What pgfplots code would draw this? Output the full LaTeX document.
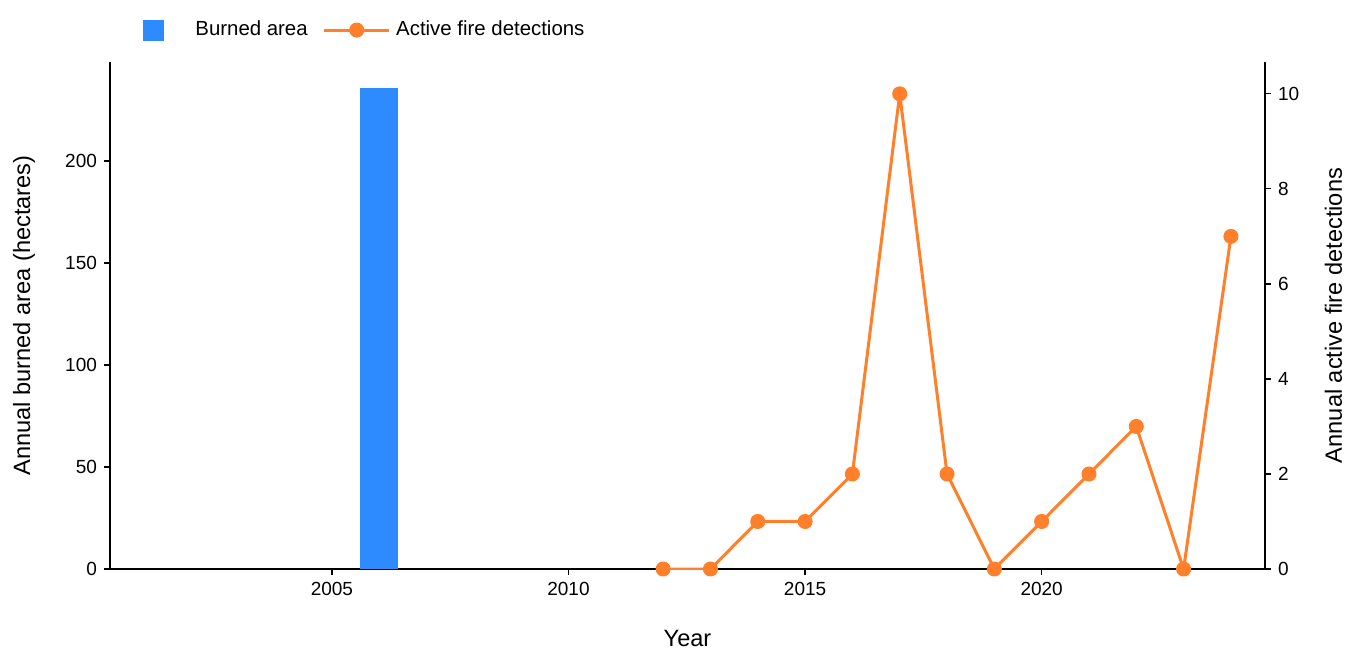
\documentclass[border=0pt]{standalone}
\usepackage{pgfplots}
\pgfplotsset{compat=1.18}
\usepackage{fontspec}
\setmainfont{Liberation Sans}
\definecolor{barblue}{HTML}{2E8BFF}
\definecolor{lineorange}{HTML}{FF7F2A}
\begin{document}
\begin{tikzpicture}
\path[use as bounding box] (-55pt,-40.5pt) rectangle (617.5pt,284.5pt);
\begin{axis}[
  at={(0,0)}, anchor=south west,
  scale only axis, width=577.5pt, height=253.5pt,
  xmin=2000.31, xmax=2024.72, ymin=0, ymax=248.5,
  axis x line*=bottom, axis y line*=left,
  tick align=outside, major tick length=3pt,
  xtick={2005,2010,2015,2020}, ytick={0,50,100,150,200},
  /pgf/number format/1000 sep={},
  /pgf/number format/assume math mode=true,
  tick label style={font=\fontsize{9.5}{11}\selectfont},
  xlabel={Year}, ylabel={Annual burned area (hectares)},
  label style={font=\fontsize{11.8}{13}\selectfont},
  xlabel style={at={(axis description cs:0.5,-0.137)}, anchor=center, inner sep=0pt},
  ylabel style={at={(axis description cs:-0.0745,0.5)}, anchor=center, inner sep=0pt},
  axis line style={line width=0.6pt},
  every tick/.style={line width=0.6pt, black},
]
\addplot[ybar, bar width=0.8, bar shift=0pt, fill=barblue, draw=none] coordinates {(2006,236)};
\end{axis}
\begin{axis}[
  at={(0,0)}, anchor=south west,
  scale only axis, width=577.5pt, height=253.5pt,
  xmin=2000.31, xmax=2024.72, ymin=0, ymax=10.67,
  axis x line=none, axis y line*=right,
  tick align=outside, major tick length=3pt,
  ytick={0,2,4,6,8,10},
  /pgf/number format/assume math mode=true,
  tick label style={font=\fontsize{9.5}{11}\selectfont},
  ylabel={Annual active fire detections},
  label style={font=\fontsize{11.8}{13}\selectfont},
  ylabel style={at={(axis description cs:1.0592,0.5)}, anchor=center, inner sep=0pt},
  axis line style={line width=0.6pt},
  every tick/.style={line width=0.6pt, black},
  legend columns=2,
  legend style={draw=none, fill=none, inner sep=0pt, at={(axis description cs:0.0087,1.063)}, anchor=west,
    font=\fontsize{10.2}{12}\selectfont, /tikz/every even column/.append style={column sep=5.5pt}},
  legend cell align=left,
]
\addlegendimage{legend image code/.code={\fill[barblue] (11.25pt,-5pt) rectangle (21.25pt,5pt); \path[draw=none] (0pt,0pt) -- (35.5pt,0pt);}}
\addlegendentry{Burned area}
\addplot[lineorange, line width=1.5pt, line join=round, mark=*, mark size=3pt, mark options={fill=lineorange, draw=lineorange},
  legend image code/.code={\draw[lineorange, line width=1.5pt] (0pt,0pt) -- (32.5pt,0pt); \fill[lineorange] (16.25pt,0pt) circle (3pt); \path[draw=none] (0pt,0pt) -- (34pt,0pt);}]
coordinates {(2012,0)(2013,0)(2014,1)(2015,1)(2016,2)(2017,10)(2018,2)(2019,0)(2020,1)(2021,2)(2022,3)(2023,0)(2024,7)};
\addlegendentry{Active fire detections}
\end{axis}
\end{tikzpicture}
\end{document}
